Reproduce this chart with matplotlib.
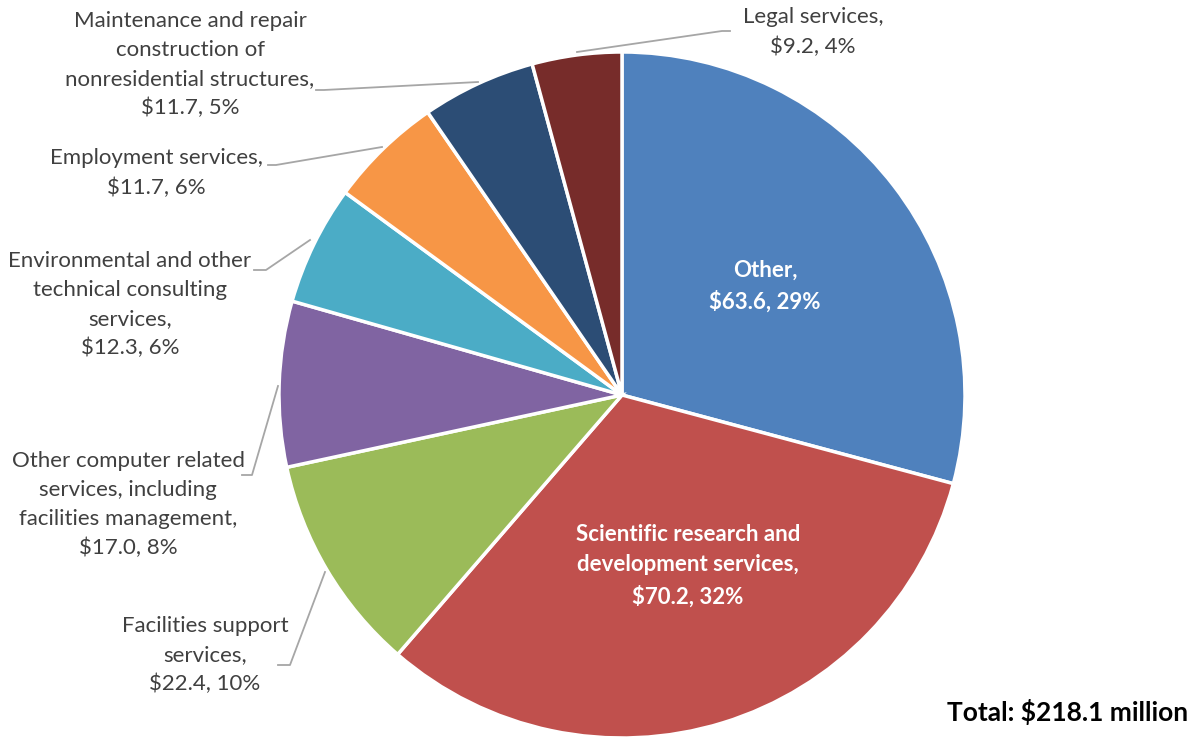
import matplotlib.pyplot as plt

plt.rcParams['font.family'] = ['Lato', 'DejaVu Sans']

categories = ['Other', 'Scientific research and development services',
              'Facilities support services',
              'Other computer related services, including facilities management',
              'Environmental and other technical consulting services',
              'Employment services',
              'Maintenance and repair construction of nonresidential structures',
              'Legal services']
values = [63.6, 70.2, 22.4, 17.0, 12.3, 11.7, 11.7, 9.2]
percents = [29, 32, 10, 8, 6, 6, 5, 4]
colors = ['#4F81BD', '#C0504D', '#9BBB59', '#8064A2', '#4BACC6',
          '#F79646', '#2C4D75', '#772C2A']

# label text (wrapped like the original), text position, leader line points (pixel coords, y from top)
label_lines = [
    'Other,',
    'Scientific research and\ndevelopment services,',
    'Facilities support\nservices,',
    'Other computer related\nservices, including\nfacilities management,',
    'Environmental and other\ntechnical consulting\nservices,',
    'Employment services,',
    'Maintenance and repair\nconstruction of\nnonresidential structures,',
    'Legal services,',
]
label_pos = [(765, 286), (688, 566), (205, 655), (128, 505),
             (130, 305), (156, 173), (190, 65), (813, 32)]
leaders = [None, None,
           [(325, 572), (290, 665), (278, 665)],
           [(278, 386), (252, 475), (242, 475)],
           [(310, 240), (266, 270), (254, 270)],
           [(382, 147), (276, 165), (268, 165)],
           [(478, 82), (324, 90), (316, 90)],
           [(577, 52), (722, 31), (730, 31)]]

W, H = 1198, 738
fig = plt.figure(figsize=(W / 100, H / 100), dpi=100)
ax = fig.add_axes([0, 0, 1, 1])

cx, cy, r = 622, H - 395, 343
ax.pie(values, colors=colors, startangle=90, counterclock=False,
       center=(cx, cy), radius=r, frame=True,
       wedgeprops=dict(edgecolor='white', linewidth=2.5))
ax.set_xlim(0, W)
ax.set_ylim(0, H)
ax.axis('off')

for i, (txt, pos) in enumerate(zip(label_lines, label_pos)):
    full = f'{txt}\n${values[i]:.1f}, {percents[i]}%'
    if i < 2:
        ax.text(pos[0], H - pos[1], full, ha='center', va='center',
                fontsize=16, fontweight='bold', color='white', linespacing=1.55)
    else:
        ax.text(pos[0], H - pos[1], full, ha='center', va='center',
                fontsize=16, color='#404040', linespacing=1.55)
    if leaders[i]:
        xs = [p[0] for p in leaders[i]]
        ys = [H - p[1] for p in leaders[i]]
        ax.plot(xs, ys, color='#A6A6A6', lw=1.3)

ax.text(1188, H - 712, 'Total: $218.1 million', ha='right', va='center',
        fontsize=19, fontweight='bold', color='black')

fig.savefig('out.png', dpi=100)
